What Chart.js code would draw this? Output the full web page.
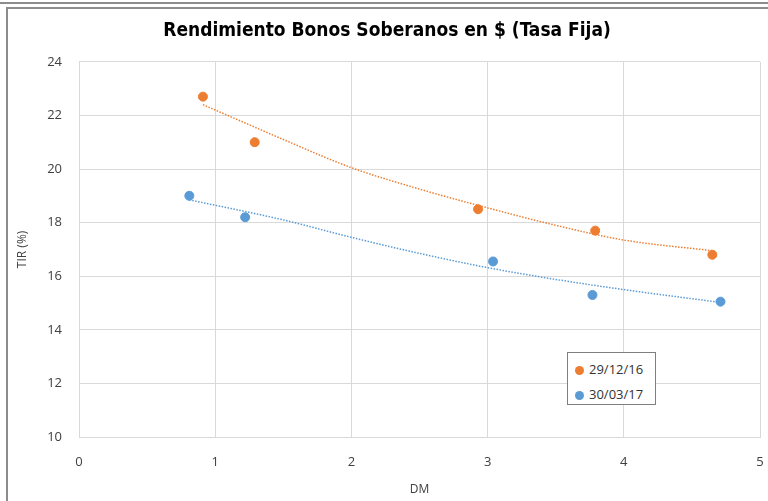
<!DOCTYPE html>
<html>
<head>
<meta charset="utf-8">
<script src="https://cdn.jsdelivr.net/npm/chart.js@4.4.1/dist/chart.umd.min.js"></script>
<style>
    html, body { margin: 0; padding: 0; background: #fff; }
    #wrap { position: relative; width: 768px; height: 501px; overflow: hidden; }
    .rule { position: absolute; background: #8c8c8c; }
    #chart { position: absolute; left: 0; top: 0; }
    #legend {
        position: absolute; left: 567px; top: 352px; width: 89px; height: 53px;
        border: 1px solid #7f7f7f; background: #fff; box-sizing: border-box;
        font-family: "Open Sans", "Noto Sans", sans-serif; font-size: 13px; color: #333;
        padding: 4px 0 0 7px;
    }
    #legend .item { height: 25px; line-height: 25px; white-space: nowrap; }
    #legend .dot { display: inline-block; width: 9px; height: 9px; border-radius: 50%; margin-right: 5px; vertical-align: -1px; }
</style>
</head>
<body>
<div id="wrap">
    <div class="rule" style="left:0;top:2px;width:768px;height:2px;"></div>
    <div class="rule" style="left:6px;top:7px;width:762px;height:2px;"></div>
    <div class="rule" style="left:6px;top:7px;width:2px;height:494px;"></div>
    <canvas id="chart" width="768" height="501"></canvas>
    <div id="legend"></div>
</div>
<script>
    'use strict';

    // Series labels
    var seriesNames = ['29/12/16', '30/03/17'];
    var seriesColors = ['#ED7D31', '#5B9BD5'];

    // Bond points (DM, TIR %)
    var dmDic = [0.91, 1.29, 2.93, 3.79, 4.65];
    var tirDic = [22.7, 21.0, 18.5, 17.7, 16.8];
    var dmMar = [0.81, 1.22, 3.04, 3.77, 4.71];
    var tirMar = [19.0, 18.2, 16.55, 15.3, 15.05];

    // Trendlines
    var trendDmDic = [0.91, 1.25, 1.5, 2.0, 2.5, 3.0, 3.5, 4.0, 4.65];
    var trendTirDic = [22.4, 21.65, 21.1, 20.05, 19.25, 18.55, 17.9, 17.35, 16.95];
    var trendDmMar = [0.81, 1.5, 2.0, 2.5, 3.0, 3.5, 4.0, 4.71];
    var trendTirMar = [18.85, 18.1, 17.45, 16.85, 16.32, 15.88, 15.5, 15.02];

    var xTicks = [0, 1, 2, 3, 4, 5];
    var yTicks = [10, 12, 14, 16, 18, 20, 22, 24];

    function pairs(xs, ys) {
        return xs.map(function (x, i) {
            return { x: x, y: ys[i] };
        });
    }

    function trendSet(xs, ys, color) {
        return {
            type: 'line',
            data: pairs(xs, ys),
            borderColor: color,
            borderWidth: 1.5,
            borderDash: [1.5, 1.5],
            pointRadius: 0,
            cubicInterpolationMode: 'monotone',
            fill: false,
            order: 2
        };
    }

    function pointSet(label, xs, ys, color) {
        return {
            type: 'scatter',
            label: label,
            data: pairs(xs, ys),
            backgroundColor: color,
            borderColor: color,
            pointRadius: 4.5,
            order: 1
        };
    }

    var tickFont = { family: '"Open Sans", "Noto Sans", sans-serif', size: 13 };
    var titleFont = { family: '"Open Sans", "Noto Sans", sans-serif', size: 12 };
    var gridColor = '#d9d9d9';

    new Chart(document.getElementById('chart').getContext('2d'), {
        data: {
            datasets: [
                trendSet(trendDmDic, trendTirDic, seriesColors[0]),
                trendSet(trendDmMar, trendTirMar, seriesColors[1]),
                pointSet(seriesNames[0], dmDic, tirDic, seriesColors[0]),
                pointSet(seriesNames[1], dmMar, tirMar, seriesColors[1])
            ]
        },
        options: {
            responsive: false,
            animation: false,
            layout: {
                padding: { left: 14, right: 8, top: 0, bottom: 0 }
            },
            plugins: {
                legend: { display: false },
                tooltip: { enabled: false },
                title: {
                    display: true,
                    text: 'Rendimiento Bonos Soberanos en $ (Tasa Fija)',
                    color: '#000',
                    font: { family: '"DejaVu Sans Condensed", "Liberation Sans Narrow", sans-serif', size: 19, weight: 'bold' },
                    padding: { top: 20, bottom: 19 }
                }
            },
            scales: {
                x: {
                    type: 'linear',
                    min: xTicks[0],
                    max: xTicks[xTicks.length - 1],
                    afterBuildTicks: function (scale) {
                        scale.ticks = xTicks.map(function (v) { return { value: v }; });
                    },
                    afterFit: function (scale) {
                        scale.height = 64;
                    },
                    grid: { color: gridColor, drawTicks: true, tickLength: 17, tickColor: 'rgba(0,0,0,0)' },
                    border: { color: gridColor },
                    ticks: { color: '#404040', font: tickFont, padding: 0 },
                    title: {
                        display: true,
                        text: 'DM',
                        color: '#404040',
                        font: titleFont,
                        padding: { top: 4 }
                    }
                },
                y: {
                    type: 'linear',
                    min: yTicks[0],
                    max: yTicks[yTicks.length - 1],
                    afterBuildTicks: function (scale) {
                        scale.ticks = yTicks.map(function (v) { return { value: v }; });
                    },
                    afterFit: function (scale) {
                        scale.width = 65;
                    },
                    grid: { color: gridColor, drawTicks: false },
                    border: { color: gridColor },
                    ticks: { color: '#404040', font: tickFont, padding: 17 },
                    title: {
                        display: true,
                        text: 'TIR (%)',
                        color: '#404040',
                        font: titleFont,
                        padding: { top: 1, bottom: 0 }
                    }
                }
            }
        }
    });

    // Legend box inside the plot
    var legend = document.getElementById('legend');
    seriesNames.forEach(function (name, i) {
        var row = document.createElement('div');
        row.className = 'item';
        row.innerHTML = '<span class="dot" style="background:' + seriesColors[i] + '"></span>' + name;
        legend.appendChild(row);
    });
</script>
</body>
</html>
